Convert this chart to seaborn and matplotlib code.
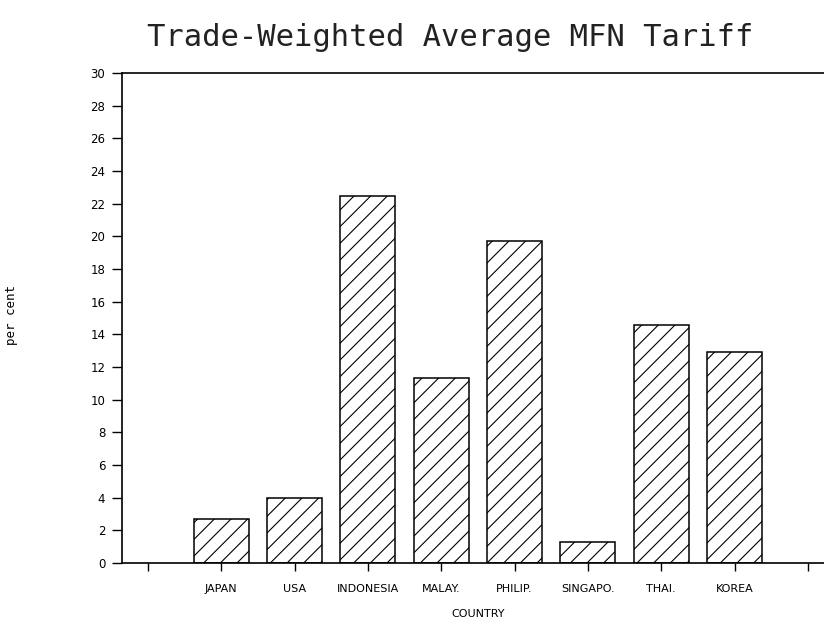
import matplotlib
matplotlib.use("Agg")
import matplotlib.pyplot as plt
import seaborn as sns
import pandas as pd

countries = ["JAPAN", "USA", "INDONESIA", "MALAY.", "PHILIP.", "SINGAPO.", "THAI.", "KOREA"]
tariffs = [2.7, 4.0, 22.5, 11.3, 19.7, 1.3, 14.6, 12.9]
y_ticks = list(range(0, 31, 2))

sns.set_theme(style="white")
plt.rcParams["font.family"] = ["DejaVu Sans"]
plt.rcParams["hatch.linewidth"] = 0.8
plt.rcParams["hatch.color"] = "black"
plt.rcParams["text.color"] = "black"
plt.rcParams["axes.labelcolor"] = "black"
plt.rcParams["xtick.color"] = "black"
plt.rcParams["ytick.color"] = "black"

df = pd.DataFrame({"country": countries, "tariff": tariffs})

fig = plt.figure(figsize=(8.24, 6.22), dpi=100)
ax_w = 824 - 122
ax_h = 563 - 73
ax = fig.add_axes([122 / 824, 1 - 563 / 622, ax_w / 824, ax_h / 622])

sns.barplot(data=df, x="country", y="tariff", order=countries, color="white",
            edgecolor="black", linewidth=1.1, width=0.75, saturation=1,
            hatch="//", ax=ax)

ax.set_ylim(0, 30)
ax.set_yticks(y_ticks)
ax.set_yticklabels([str(t) for t in y_ticks], fontsize=8.5)
ax.set_xticks(range(-1, len(countries) + 1))
ax.set_xticklabels([""] + countries + [""], fontsize=8)
ax.set_xlim(-1.355, len(countries) + 0.22)

ax.tick_params(axis="y", direction="out", length=7, width=1, pad=5, left=True)
ax.tick_params(axis="x", direction="out", length=6, width=1, pad=9, bottom=True)

for side in ["left", "top", "bottom"]:
    ax.spines[side].set_visible(True)
    ax.spines[side].set_color("black")
    ax.spines[side].set_linewidth(1.2)
ax.spines["right"].set_visible(False)

ax.set_xlabel("COUNTRY", fontsize=8)
ax.xaxis.set_label_coords((478 - 122) / ax_w, -(609 - 563) / ax_h)
ax.set_ylabel("per cent", fontsize=9, fontfamily=["DejaVu Sans Mono"])
ax.yaxis.set_label_coords((18 - 122) / ax_w, (563 - 315) / ax_h)

fig.text(450 / 824, 1 - 37 / 622, "Trade-Weighted Average MFN Tariff",
         ha="center", va="center", fontsize=22,
         fontfamily=["DejaVu Sans Mono"], color="#222222")

fig.savefig("out.png", dpi=100)
